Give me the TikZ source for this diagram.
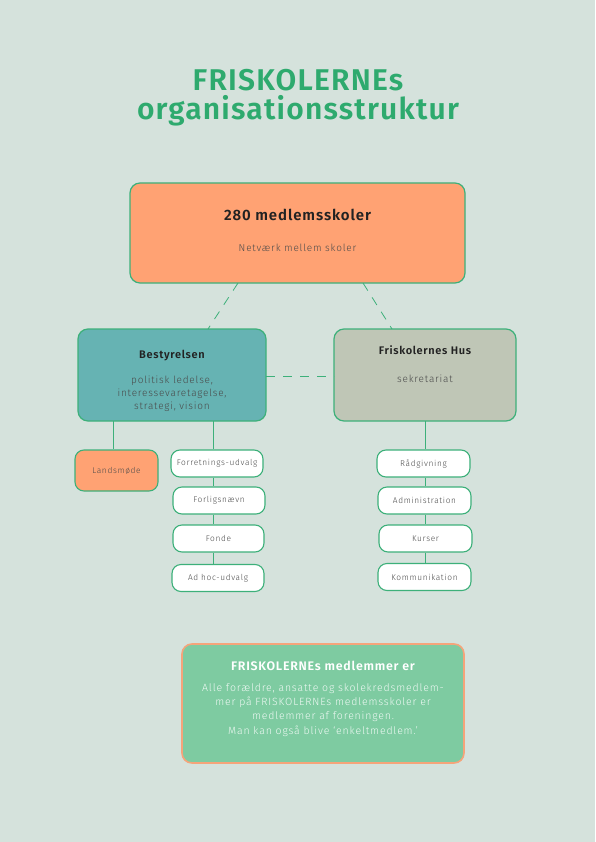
\documentclass[tikz,border=0pt]{standalone}
\usepackage{fontspec}
\setmainfont{Fira Sans}
\newfontfamily\lightf[LetterSpace=8]{Fira Sans Light}
\newfontfamily\boldf[LetterSpace=6]{Fira Sans SemiBold}
\newfontfamily\titlef[LetterSpace=4]{Fira Sans SemiBold}
\definecolor{bg}{HTML}{D5E2DC}
\definecolor{grn}{HTML}{2EAA6E}
\definecolor{edge}{HTML}{3DB07A}
\definecolor{orng}{HTML}{FFA273}
\definecolor{teal}{HTML}{66B3B3}
\definecolor{sage}{HTML}{BFC6B6}
\definecolor{mint}{HTML}{7ECBA1}
\definecolor{obord}{HTML}{F5A47A}
\definecolor{dtxt}{HTML}{222222}
\definecolor{gtxt}{HTML}{4A4A4A}
\tikzset{
  bigbox/.style={draw=edge, line width=1.2pt, rounded corners=10pt},
  pill/.style={draw=edge, line width=1.1pt, fill=white, rounded corners=9pt, minimum height=27pt, text=gtxt, font=\lightf\fontsize{8.3}{9}\selectfont, inner sep=0pt},
  link/.style={draw=edge, line width=0.8pt},
  dlink/.style={draw=edge, line width=0.8pt, dash pattern=on 9pt off 8pt},
}
\begin{document}
\begin{tikzpicture}[x=1pt,y=-1pt]
\fill[bg] (0,0) rectangle (595,842);
\useasboundingbox (0,0) rectangle (595,842);
% title
\node[text=grn, font=\titlef\fontsize{30}{32}\selectfont] (t1) at (298,80) {FRISKOLERNEs};
\node[text=grn, font=\titlef\fontsize{30}{32}\selectfont] (t2) at (298,111) {organisationsstruktur};
% top box
\draw[bigbox, fill=orng] (130,183) rectangle (465,283);
\coordinate (topL) at (238,283);
\coordinate (topR) at (363,283);
\node[text=dtxt, font=\boldf\fontsize{15}{17}\selectfont] (tt) at (297.5,215) {280 medlemsskoler};
\node[text=gtxt, font=\lightf\fontsize{10}{12}\selectfont] (ts) at (297.5,248) {Netværk mellem skoler};
% Bestyrelsen
\draw[bigbox, fill=teal] (78,329) rectangle (266,421);
\coordinate (bT) at (208,329);
\coordinate (bR) at (266,376);
\coordinate (bB1) at (113,421);
\coordinate (bB2) at (213,421);
\node[text=dtxt, font=\boldf\fontsize{11}{13}\selectfont] (bt) at (172,356) {Bestyrelsen};
\node[text=gtxt, font=\lightf\fontsize{10}{13}\selectfont, align=center] (bs) at (172,394) {politisk ledelse,\\interessevaretagelse,\\strategi, vision};
% Friskolernes Hus
\draw[bigbox, fill=sage] (334,329) rectangle (516,421);
\coordinate (hT) at (392,329);
\coordinate (hL) at (334,376);
\coordinate (hB) at (425,421);
\node[text=dtxt, font=\boldf\fontsize{11}{13}\selectfont] (ht) at (425,350) {Friskolernes Hus};
\node[text=gtxt, font=\lightf\fontsize{10}{12}\selectfont] (hs) at (425,379) {sekretariat};
% dashed connectors
\draw[dlink] (topL) -- (bT);
\draw[dlink] (topR) -- (hT);
\draw[dlink] (bR) -- (hL);
% Landsmøde
\node[draw=edge, line width=1.1pt, fill=orng, rounded corners=9pt, minimum width=83pt, minimum height=41pt, text=gtxt, font=\lightf\fontsize{8.3}{9}\selectfont, inner sep=0pt] (lm) at (116.5,470.5) {Landsmøde};
% left pills
\node[pill, minimum width=92pt] (p1) at (217,463.5) {Forretnings-udvalg};
\node[pill, minimum width=92pt] (p2) at (219,500.5) {Forligsnævn};
\node[pill, minimum width=91pt] (p3) at (218.5,538.5) {Fonde};
\node[pill, minimum width=92pt] (p4) at (218,578) {Ad hoc-udvalg};
% right pills
\node[pill, minimum width=93pt] (r1) at (423.5,463.5) {Rådgivning};
\node[pill, minimum width=93pt] (r2) at (424.5,500.5) {Administration};
\node[pill, minimum width=93pt] (r3) at (425.5,538.5) {Kurser};
\node[pill, minimum width=93pt] (r4) at (424.5,577) {Kommunikation};
% solid connectors
\draw[link] (bB1) -- (bB1 |- lm.north);
\draw[link] (bB2) -- (bB2 |- p1.north);
\draw[link] (bB2 |- p1.south) -- (bB2 |- p2.north);
\draw[link] (bB2 |- p2.south) -- (bB2 |- p3.north);
\draw[link] (bB2 |- p3.south) -- (bB2 |- p4.north);
\draw[link] (hB) -- (hB |- r1.north);
\draw[link] (hB |- r1.south) -- (hB |- r2.north);
\draw[link] (hB |- r2.south) -- (hB |- r3.north);
\draw[link] (hB |- r3.south) -- (hB |- r4.north);
% bottom info box
\draw[draw=obord, line width=1.6pt, fill=mint, rounded corners=10pt] (182,644) rectangle (464,763);
\node[text=white, font=\boldf\fontsize{12.4}{14}\selectfont] (it) at (323,666) {FRISKOLERNEs medlemmer er};
\node[text=white!88!mint, font=\lightf\fontsize{10.5}{14.3}\selectfont, align=center] (ib) at (323,710) {Alle forældre, ansatte og skolekredsmedlem-\\mer på FRISKOLERNEs medlemsskoler er\\medlemmer af foreningen.\\Man kan også blive ‘enkeltmedlem.’};
\end{tikzpicture}
\end{document}
